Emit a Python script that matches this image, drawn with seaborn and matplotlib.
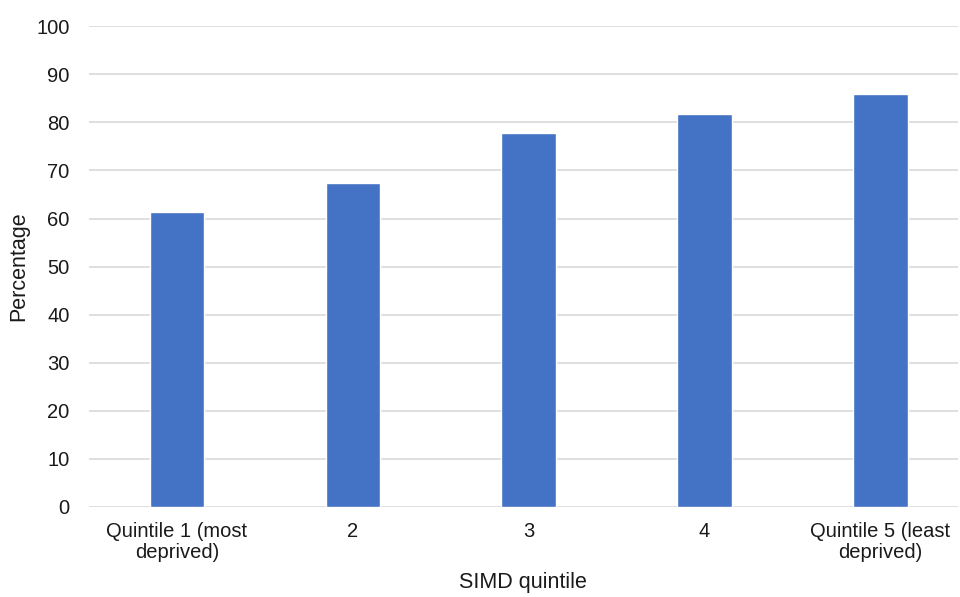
import matplotlib
matplotlib.use("Agg")
import pandas as pd
from matplotlib import pyplot as plt
import seaborn as sns

quintiles = ["Quintile 1 (most\ndeprived)", "2", "3", "4", "Quintile 5 (least\ndeprived)"]
percentages = [61.4, 67.3, 77.7, 81.7, 86.0]

df = pd.DataFrame({"quintile": quintiles, "pct": percentages})

sns.set_theme(style="white")
plt.rcParams["font.family"] = ["Liberation Sans", "DejaVu Sans"]

fig = plt.figure(figsize=(9.6, 5.97), dpi=100)
ax = fig.add_axes([0.0927, 0.151, 0.905, 0.805])

sns.barplot(data=df, x="quintile", y="pct", color="#4472C4", width=0.31,
            saturation=1, ax=ax, zorder=3)

ax.set_ylim(0, 100)
ax.set_yticks(range(0, 101, 10))
ax.set_xlim(-0.5, 4.44)
ax.yaxis.grid(True, color="#d9d9d9", linewidth=1.2, zorder=0)
ax.set_axisbelow(True)
for s in ax.spines.values():
    s.set_visible(False)
ax.tick_params(axis="both", length=0, labelsize=14.5, colors="#1a1a1a")
ax.tick_params(axis="x", pad=11)
ax.tick_params(axis="y", pad=14)
for lbl in ax.get_xticklabels():
    lbl.set_linespacing(1.12)
ax.set_xlabel("SIMD quintile", fontsize=15.5, color="#1a1a1a", labelpad=7)
ax.set_ylabel("Percentage", fontsize=15.5, color="#1a1a1a", labelpad=5)

fig.savefig("out.png", dpi=100)
